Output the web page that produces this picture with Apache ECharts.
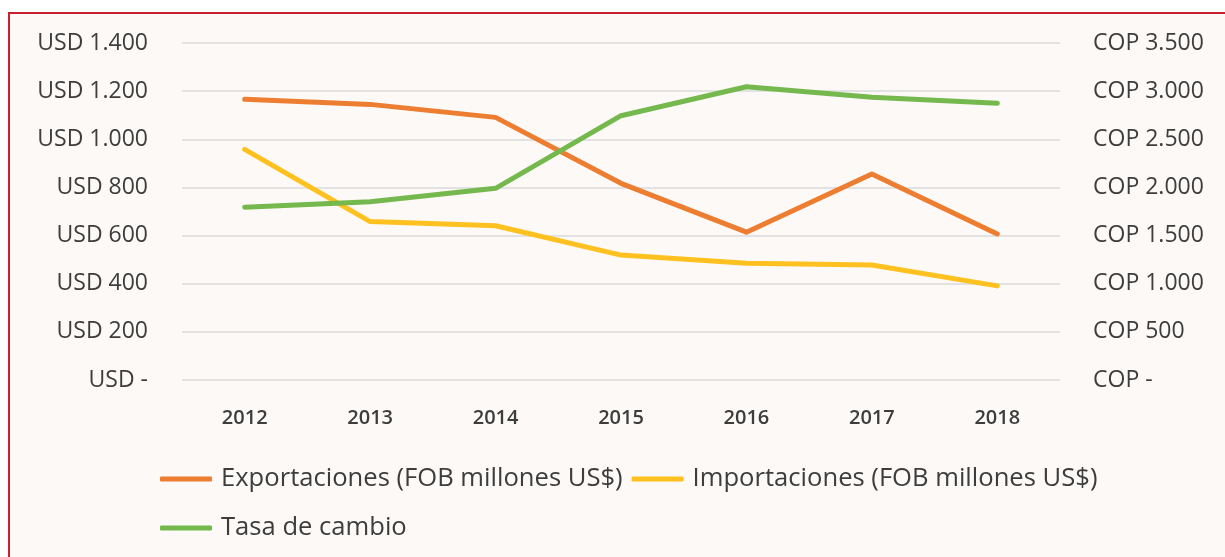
<!DOCTYPE html>
<html>
<head>
<meta charset="utf-8">
<script src="https://cdn.jsdelivr.net/npm/echarts@6/dist/echarts.min.js"></script>
<style>
  html, body { margin: 0; padding: 0; background: #ffffff; width: 1225px; height: 557px; overflow: hidden; }
  #frame { position: absolute; left: 8px; top: 12px; width: 1300px; height: 600px;
           background: #fcf9f6; border-top: 2px solid #c8202f; border-left: 2px solid #c8202f; }
  #chart { position: absolute; left: 0; top: 0; width: 1225px; height: 557px; }
</style>
</head>
<body>
<div id="frame"></div>
<div id="chart"></div>
<script>
// Years on the category axis
const years = ['2012', '2013', '2014', '2015', '2016', '2017', '2018'];

// Trade flows, millions of US$ (FOB)
const exportaciones = [1166, 1145, 1091, 817, 614, 856, 607];
const importaciones = [958, 658, 641, 519, 485, 478, 391];

// Exchange rate, COP per USD
const tasaDeCambio = [1794, 1852, 1991, 2745, 3046, 2936, 2873];

// Axis tick labels
const usdTicks = ['USD -', 'USD 200', 'USD 400', 'USD 600', 'USD 800', 'USD 1.000', 'USD 1.200', 'USD 1.400'];
const copTicks = ['COP -', 'COP 500', 'COP 1.000', 'COP 1.500', 'COP 2.000', 'COP 2.500', 'COP 3.000', 'COP 3.500'];

const names = ['Exportaciones (FOB millones US$)', 'Importaciones (FOB millones US$)', 'Tasa de cambio'];
const colors = ['#ed7d31', '#ffc120', '#75b84e'];

const font = '"Open Sans", "DejaVu Sans", sans-serif';
const textColor = '#3d3d3d';

const chart = echarts.init(document.getElementById('chart'), null, { renderer: 'canvas' });

const legendText = { fontFamily: font, fontSize: 25.6, color: textColor, padding: [0, 0, 0, 4], lineHeight: 30 };
const legendBase = { orient: 'horizontal', padding: 0, icon: 'roundRect',
                     itemWidth: 52, itemHeight: 5, itemGap: 9, textStyle: legendText };

chart.setOption({
  backgroundColor: 'transparent',
  animation: false,
  color: colors,
  grid: { left: 182, right: 165, top: 43, bottom: 177, containLabel: false },
  legend: [
    Object.assign({ data: [names[0], names[1]], left: 160, top: 464 }, legendBase),
    Object.assign({ data: [names[2]], left: 160, top: 513 }, legendBase)
  ],
  xAxis: {
    type: 'category',
    data: years,
    boundaryGap: true,
    axisLine: { show: false },
    axisTick: { show: false },
    axisLabel: { fontFamily: font, fontSize: 20, fontWeight: 600, color: textColor, margin: 28 }
  },
  yAxis: [
    {
      type: 'value', min: 0, max: 1400, interval: 200, position: 'left',
      axisLine: { show: false }, axisTick: { show: false },
      splitLine: { show: true, lineStyle: { color: '#e2e2e2', width: 2 } },
      axisLabel: { fontFamily: font, fontSize: 23, fontWeight: 500, color: textColor, margin: 34,
        formatter: v => usdTicks[Math.round(v / 200)] }
    },
    {
      type: 'value', min: 0, max: 3500, interval: 500, position: 'right',
      axisLine: { show: false }, axisTick: { show: false },
      splitLine: { show: false },
      axisLabel: { fontFamily: font, fontSize: 23, fontWeight: 500, color: textColor, margin: 33,
        formatter: v => copTicks[Math.round(v / 500)] }
    }
  ],
  series: [
    { name: names[0], type: 'line', yAxisIndex: 0, data: exportaciones, symbol: 'none',
      lineStyle: { width: 5, cap: 'round', join: 'round' } },
    { name: names[1], type: 'line', yAxisIndex: 0, data: importaciones, symbol: 'none',
      lineStyle: { width: 5, cap: 'round', join: 'round' } },
    { name: names[2], type: 'line', yAxisIndex: 1, data: tasaDeCambio, symbol: 'none',
      lineStyle: { width: 5, cap: 'round', join: 'round' } }
  ]
});
</script>
</body>
</html>
